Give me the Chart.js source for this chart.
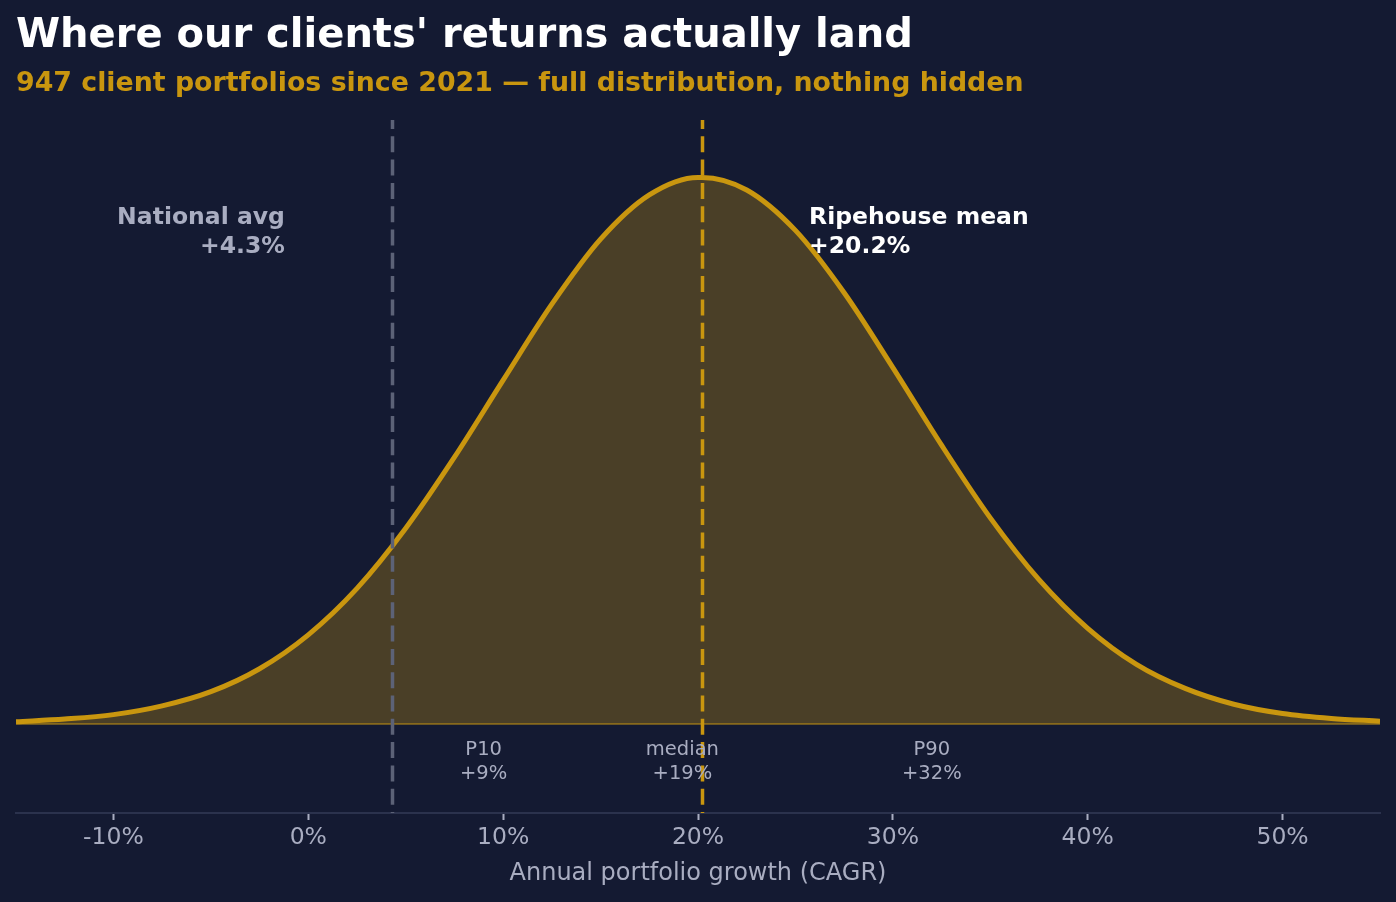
<!DOCTYPE html>
<html>
<head>
<meta charset="utf-8">
<script src="https://cdn.jsdelivr.net/npm/chart.js@4.4.1/dist/chart.umd.min.js"></script>
<style>
  html, body { margin: 0; padding: 0; background: #141a32; }
  canvas { display: block; }
</style>
</head>
<body>
<canvas id="returnsChart" width="1396" height="902"></canvas>
<script>
// Distribution of client CAGR (relative density)
const growthPct = [-15, -12.5, -10, -7.5, -5, -2.5, 0, 2.5, 5, 7.5, 10, 12.5, 15, 17.5, 20, 20.2,
  22.5, 25, 27.5, 30, 32.5, 35, 37.5, 40, 42.5, 45, 47.5, 50, 52.5, 55];
const density = [0.004, 0.009, 0.017, 0.033, 0.059, 0.101, 0.163, 0.248, 0.358, 0.488, 0.629, 0.768, 0.887, 0.968, 1.0, 1.0,
  0.977, 0.903, 0.789, 0.652, 0.510, 0.377, 0.264, 0.175, 0.109, 0.065, 0.036, 0.019, 0.010, 0.005];

// Reference lines
const nationalAvg = 4.3;
const ripehouseMean = 20.2;

// Percentile markers
const pctLabels = ['P10', 'median', 'P90'];
const pctValues = [9, 19.2, 32];

const xTicks = [-10, 0, 10, 20, 30, 40, 50];

const BG = '#141a32';
const GOLD = '#c9960f';
const GREY_TEXT = '#a9adc1';
const GREY_LINE = '#5c6277';
const FONT = "'DejaVu Sans', sans-serif";

const decorations = {
  id: 'decorations',
  beforeDraw(chart) {
    const ctx = chart.ctx;
    ctx.save();
    ctx.fillStyle = BG;
    ctx.fillRect(0, 0, chart.width, chart.height);
    ctx.textAlign = 'left';
    ctx.textBaseline = 'alphabetic';
    ctx.fillStyle = '#ffffff';
    ctx.font = "bold 40px " + FONT;
    ctx.fillText("Where our clients' returns actually land", 16, 47);
    ctx.fillStyle = GOLD;
    ctx.font = "bold 26.8px " + FONT;
    ctx.fillText('947 client portfolios since 2021 \u2014 full distribution, nothing hidden', 16, 91);
    ctx.restore();
  },
  beforeDatasetsDraw(chart) {
    const {ctx, chartArea, scales: {y}} = chart;
    const y0 = y.getPixelForValue(0);
    ctx.save();
    ctx.strokeStyle = '#6b5622';
    ctx.lineWidth = 2;
    ctx.beginPath();
    ctx.moveTo(chartArea.left, y0);
    ctx.lineTo(chartArea.right, y0);
    ctx.stroke();
    ctx.restore();
  },
  afterDatasetsDraw(chart) {
    const {ctx, chartArea, scales: {x, y}} = chart;
    ctx.save();

    // dashed reference lines
    const vline = (val, color) => {
      const px = Math.round(x.getPixelForValue(val)) + 0.5;
      ctx.strokeStyle = color;
      ctx.lineWidth = 3.5;
      ctx.setLineDash([16, 7.3]);
      ctx.lineDashOffset = 7;
      ctx.beginPath();
      ctx.moveTo(px, chartArea.top);
      ctx.lineTo(px, chartArea.bottom);
      ctx.stroke();
    };
    vline(nationalAvg, GREY_LINE);
    vline(ripehouseMean, GOLD);
    ctx.setLineDash([]);

    // callouts
    ctx.textBaseline = 'middle';
    ctx.font = "bold 23.5px " + FONT;
    ctx.fillStyle = GREY_TEXT;
    ctx.textAlign = 'right';
    const natX = x.getPixelForValue(nationalAvg - 5.5);
    ctx.fillText('National avg', natX, y.getPixelForValue(0.925));
    ctx.fillText('+' + nationalAvg.toFixed(1) + '%', natX, y.getPixelForValue(0.872));

    ctx.fillStyle = '#ffffff';
    ctx.textAlign = 'left';
    const meanX = x.getPixelForValue(ripehouseMean + 5.5);
    ctx.fillText('Ripehouse mean', meanX, y.getPixelForValue(0.925));
    ctx.fillText('+' + ripehouseMean.toFixed(1) + '%', meanX, y.getPixelForValue(0.872));

    // percentile labels
    ctx.font = "19.5px " + FONT;
    ctx.fillStyle = GREY_TEXT;
    ctx.textAlign = 'center';
    pctLabels.forEach((lab, i) => {
      const px = x.getPixelForValue(pctValues[i]);
      ctx.fillText(lab, px, y.getPixelForValue(-0.048));
      ctx.fillText('+' + Math.round(pctValues[i]) + '%', px, y.getPixelForValue(-0.092));
    });
    ctx.restore();
  }
};

const ctx = document.getElementById('returnsChart').getContext('2d');
new Chart(ctx, {
  type: 'line',
  data: {
    datasets: [{
      data: growthPct.map((g, i) => ({ x: g, y: density[i] })),
      borderColor: GOLD,
      borderWidth: 5,
      backgroundColor: 'rgba(201,150,15,0.30)',
      fill: 'origin',
      pointRadius: 0,
      cubicInterpolationMode: 'monotone'
    }]
  },
  options: {
    responsive: false,
    animation: false,
    devicePixelRatio: 1,
    layout: { padding: { left: 16, right: 16, top: 120, bottom: 0 } },
    plugins: {
      legend: { display: false },
      tooltip: { enabled: false }
    },
    scales: {
      x: {
        type: 'linear',
        min: -15,
        max: 55,
        afterBuildTicks: (scale) => { scale.ticks = xTicks.map(v => ({ value: v })); },
        ticks: {
          color: GREY_TEXT,
          padding: 4,
          font: { family: FONT, size: 23.5 },
          callback: (v) => v + '%'
        },
        grid: {
          drawOnChartArea: false,
          drawTicks: true,
          tickLength: 7,
          tickColor: GREY_TEXT,
          tickWidth: 2
        },
        border: { display: true, color: '#2b324d', width: 2 },
        title: {
          display: true,
          text: 'Annual portfolio growth (CAGR)',
          color: GREY_TEXT,
          font: { family: FONT, size: 24 },
          padding: { top: 3, bottom: 14 }
        }
      },
      y: {
        display: false,
        min: -0.163,
        max: 1.105
      }
    }
  },
  plugins: [decorations]
});
</script>
</body>
</html>
